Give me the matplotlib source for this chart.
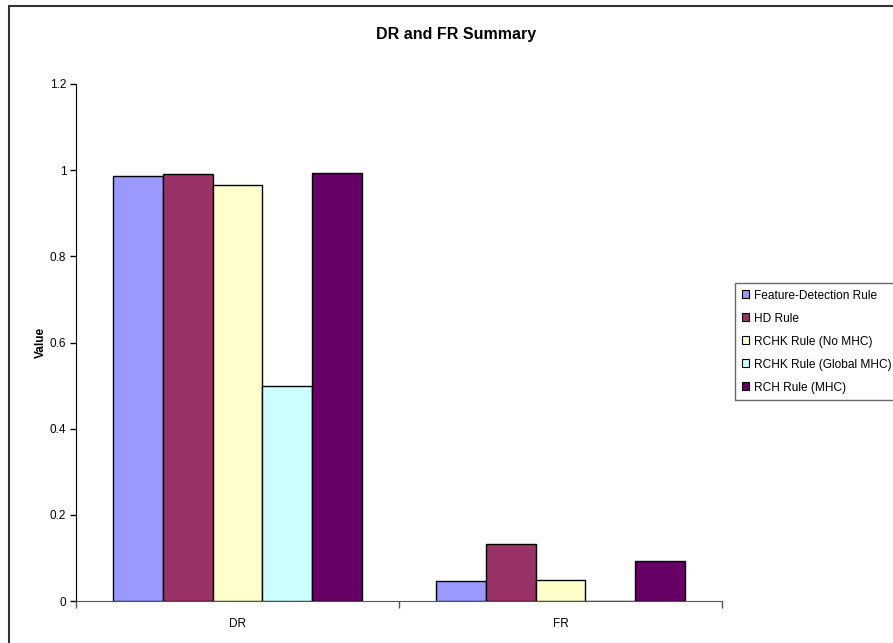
import matplotlib
matplotlib.use("Agg")
import matplotlib.pyplot as plt
from matplotlib.patches import Patch, Rectangle
import numpy as np

plt.rcParams['font.family'] = ['Liberation Sans', 'DejaVu Sans']

categories = ["DR", "FR"]
series_names = ["Feature-Detection Rule", "HD Rule", "RCHK Rule (No MHC)",
                "RCHK Rule (Global MHC)", "RCH Rule (MHC)"]
feature_detection = [0.986, 0.047]
hd_rule = [0.991, 0.133]
rchk_no_mhc = [0.966, 0.049]
rchk_global_mhc = [0.500, 0.0]
rch_mhc = [0.994, 0.094]
series_values = [feature_detection, hd_rule, rchk_no_mhc, rchk_global_mhc, rch_mhc]
colors = ["#9999FF", "#993366", "#FFFFCC", "#CCFFFF", "#660066"]
y_ticks = [0, 0.2, 0.4, 0.6, 0.8, 1, 1.2]
y_tick_labels = ["0", "0.2", "0.4", "0.6", "0.8", "1", "1.2"]

W, H = 893, 643
fig = plt.figure(figsize=(W / 100, H / 100), dpi=100)
fig.patch.set_facecolor("white")

# outer chart frame (continues past the right/bottom edge)
fig.patches.append(Rectangle((9 / W, -0.5), 2.0, 1 - 6 / H + 0.5,
                             transform=fig.transFigure, fill=False,
                             edgecolor="#333333", linewidth=1.5))

ax = fig.add_axes([76 / W, 1 - 601 / H, (722 - 76) / W, (601 - 84) / H])

x = np.arange(len(categories))
w = 1 / 6.5
for i, (vals, col) in enumerate(zip(series_values, colors)):
    ax.bar(x + (i - 2) * w, vals, width=w, color=col, edgecolor="black",
           linewidth=1.0, align="center", zorder=3)

ax.set_xlim(-0.5, 1.5)
ax.set_ylim(0, 1.2)
ax.set_yticks(y_ticks)
ax.set_yticklabels(y_tick_labels, fontsize=8.5)
ax.tick_params(axis="y", direction="out", length=4, width=1, pad=3)

ax.set_xticks([-0.5, 0.5, 1.5])
ax.set_xticklabels(["", "", ""])
ax.set_xticks(x, minor=True)
ax.set_xticklabels(categories, minor=True, fontsize=8.5)
ax.tick_params(axis="x", which="major", direction="out", length=5, width=1,
               color="#555555")
ax.tick_params(axis="x", which="minor", length=0, pad=12)

for s in ["top", "right"]:
    ax.spines[s].set_visible(False)
ax.spines["left"].set_color("black")
ax.spines["bottom"].set_color("#555555")

ax.set_ylabel("Value", fontsize=8.5, fontweight="bold", labelpad=2)

fig.text(456 / W, 1 - 35 / H, "DR and FR Summary", ha="center", va="center",
         fontsize=11.5, fontweight="bold")

handles = [Patch(facecolor=c, edgecolor="black", linewidth=0.8) for c in colors]
leg = fig.legend(handles, series_names, loc="upper left",
                 bbox_to_anchor=(735 / W, 1 - 283 / H), fontsize=8.6,
                 frameon=True, fancybox=False, edgecolor="#444444",
                 handlelength=0.65, handleheight=0.65, handletextpad=0.4,
                 labelspacing=0.92, borderpad=0.55, borderaxespad=0)
leg.get_frame().set_linewidth(1.0)

fig.savefig("out.png", dpi=100)
